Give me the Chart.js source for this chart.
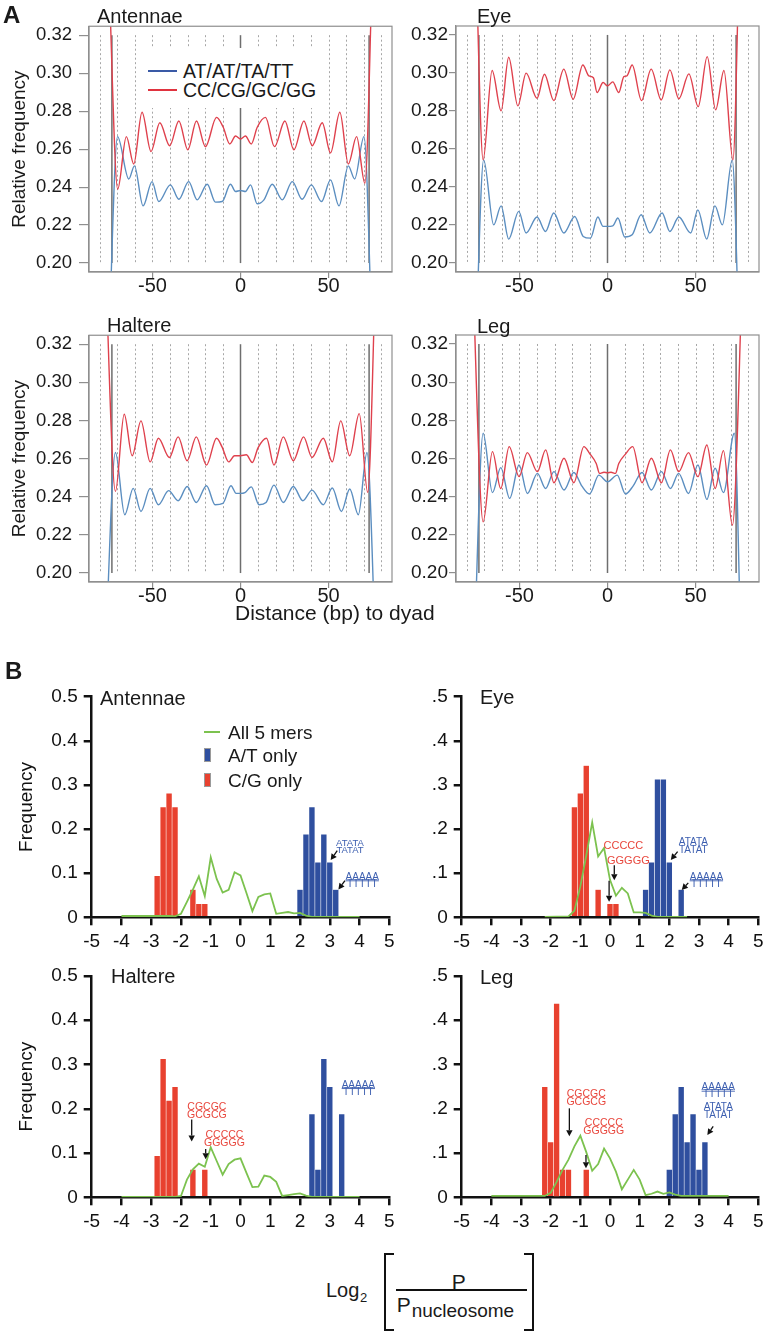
<!DOCTYPE html>
<html>
<head>
<meta charset="utf-8">
<script src="https://cdn.jsdelivr.net/npm/chart.js@4.4.1/dist/chart.umd.min.js"></script>
<style>
  body { margin: 0; background: #fff; }
  #page { position: relative; width: 766px; height: 1337px; overflow: hidden;
          font-family: "Liberation Sans", Arial, Helvetica, sans-serif; color: #1a1a1a; }
  canvas { position: absolute; }
  .t { position: absolute; line-height: 1; white-space: nowrap; }
  .box { position: absolute; box-sizing: border-box; }
</style>
</head>
<body>
<div id="page">
  <canvas id="aAnt"></canvas>
  <canvas id="aEye"></canvas>
  <canvas id="aHal"></canvas>
  <canvas id="aLeg"></canvas>
  <canvas id="bAnt"></canvas>
  <canvas id="bEye"></canvas>
  <canvas id="bHal"></canvas>
  <canvas id="bLeg"></canvas>

  <!-- panel A labels -->
  <div class="t" style="left:3px;top:3px;font-size:24px;font-weight:bold">A</div>
  <div class="t" style="left:97px;top:6px;font-size:20px">Antennae</div>
  <div class="t" style="left:477px;top:6px;font-size:20px">Eye</div>
  <div class="t" style="left:107px;top:315px;font-size:20px">Haltere</div>
  <div class="t" style="left:477px;top:316px;font-size:20px">Leg</div>

  <div class="box" style="left:140px;top:48px;width:186px;height:60px;background:#fff"></div>
  <div class="box" style="left:148px;top:70px;width:29px;height:2px;background:#3a5aa6"></div>
  <div class="t" style="left:183px;top:61.5px;font-size:19.5px">AT/AT/TA/TT</div>
  <div class="box" style="left:148px;top:89px;width:29px;height:2px;background:#e0333f"></div>
  <div class="t" style="left:183px;top:80.5px;font-size:19.5px">CC/CG/GC/GG</div>

  <div class="t" style="left:235px;top:602px;font-size:21px">Distance (bp) to dyad</div>

  <!-- panel B labels -->
  <div class="t" style="left:5px;top:659px;font-size:24px;font-weight:bold">B</div>
  <div class="t" style="left:100px;top:688px;font-size:20px">Antennae</div>
  <div class="t" style="left:480px;top:687px;font-size:20px">Eye</div>
  <div class="t" style="left:111px;top:966px;font-size:20px">Haltere</div>
  <div class="t" style="left:480px;top:967px;font-size:20px">Leg</div>

  <div class="box" style="left:204px;top:731px;width:16px;height:2px;background:#7cc24f"></div>
  <div class="t" style="left:228px;top:722.7px;font-size:19px">All 5 mers</div>
  <div class="box" style="left:204px;top:748px;width:7px;height:14px;background:#2f4f9f;border:1px solid #9a9a9a"></div>
  <div class="t" style="left:228px;top:745.7px;font-size:19px">A/T only</div>
  <div class="box" style="left:204px;top:773px;width:7px;height:14px;background:#e8412f;border:1px solid #9a9a9a"></div>
  <div class="t" style="left:228px;top:770.7px;font-size:19px">C/G only</div>

  <!-- x label of panel B -->
  <div class="t" style="left:326px;top:1280px;font-size:20px">Log</div>
  <div class="t" style="left:360px;top:1290.7px;font-size:13px">2</div>
  <div class="box" style="left:384px;top:1253px;width:10px;height:78px;border:2.5px solid #111;border-right:none"></div>
  <div class="box" style="left:524px;top:1253px;width:10px;height:78px;border:2.5px solid #111;border-left:none"></div>
  <div class="t" style="left:451.7px;top:1270.5px;font-size:21px">P</div>
  <div class="box" style="left:396px;top:1289.3px;width:131px;height:1.6px;background:#111"></div>
  <div class="t" style="left:396.7px;top:1293.9px;font-size:21px">P</div>
  <div class="t" style="left:411.7px;top:1301.2px;font-size:19px">nucleosome</div>
</div>

<script>
// Panel A: relative dinucleotide frequency vs distance to dyad -----
// [distance (bp), relative frequency]
const antennaeAT = [[-75,0.15],[-69.8,0.2666],[-63.4,0.2443],[-60.2,0.2512],[-55.3,0.2301],[-50.2,0.2429],[-46.4,0.2324],
  [-39.8,0.2412],[-35.0,0.2336],[-29.4,0.2429],[-24.6,0.2333],[-18.9,0.2415],[-14.2,0.2321],[-10.4,0.2324],[-5.7,0.2415],
  [-2.8,0.2377],[0,0.2382],[2.8,0.2377],[5.7,0.2412],[9.5,0.2312],[13.3,0.2333],[18.0,0.2415],[23.7,0.2333],[29.4,0.2429],
  [35.0,0.2336],[40.2,0.2412],[46.0,0.2324],[51.1,0.2438],[55.9,0.2301],[61.2,0.2512],[64.8,0.2443],[70.1,0.2666],[75,0.15]];
const antennaeCG = [[-75,0.36],[-69.7,0.2389],[-64.8,0.2666],[-60.6,0.2522],[-55.9,0.2794],[-50.8,0.2587],[-45.8,0.2739],
  [-40.2,0.2618],[-35.0,0.2748],[-29.9,0.2596],[-25.0,0.2748],[-19.9,0.2613],[-13.6,0.2767],[-9.8,0.2715],[-6.1,0.2627],
  [-2.8,0.2669],[0,0.2653],[2.8,0.2669],[6.1,0.2627],[9.5,0.2715],[14.2,0.2767],[19.3,0.2613],[25.2,0.2748],[30.3,0.2596],
  [36.0,0.2748],[40.7,0.2618],[46.4,0.2739],[51.1,0.258],[56.4,0.2794],[61.2,0.2522],[65.9,0.2666],[70.6,0.242],[75,0.36]];

const eyeAT = [[-75,0.15],[-70.3,0.2543],[-64.6,0.2201],[-60.4,0.2301],[-56.1,0.2126],[-50.4,0.2272],[-46.2,0.2158],
  [-40,0.2242],[-35.2,0.2166],[-30.5,0.2263],[-24.8,0.2158],[-18.6,0.2245],[-13.8,0.214],[-9.7,0.2131],[-5.5,0.2242],
  [-2.5,0.2193],[0,0.2193],[3,0.2196],[5.9,0.2237],[9.8,0.2137],[14,0.2149],[19.1,0.2254],[24,0.2158],[31,0.2263],
  [35.4,0.2166],[40.5,0.2242],[47.2,0.2158],[51.3,0.228],[56.3,0.2126],[61,0.2301],[65.2,0.2201],[70.8,0.2543],[75,0.15]];
const eyeCG = [[-75,0.37],[-70.6,0.2543],[-65.5,0.3013],[-60.4,0.2801],[-56.1,0.3083],[-50.9,0.2827],[-46.2,0.2999],
  [-40,0.2867],[-35.8,0.2993],[-30.5,0.2855],[-24.8,0.302],[-19.5,0.2862],[-14,0.3042],[-10.6,0.2985],[-8,0.2975],
  [-5.9,0.2897],[-2.5,0.295],[0,0.2932],[3,0.2953],[6.4,0.2897],[9.3,0.2981],[11,0.2985],[14,0.3042],[19.3,0.2855],
  [24.8,0.302],[30.5,0.2858],[35.4,0.3016],[40.5,0.2864],[46.2,0.2995],[51.5,0.2823],[56.6,0.3086],[61.4,0.2806],
  [66.1,0.3013],[71.2,0.2543],[75,0.37]];

const haltereAT = [[-77,0.15],[-71,0.2632],[-65.7,0.2306],[-60.9,0.2444],[-56.5,0.2323],[-51.3,0.2444],[-46.6,0.2358],
  [-40.8,0.2432],[-35.4,0.2379],[-30.3,0.2454],[-25.1,0.237],[-19.3,0.2458],[-14.4,0.2358],[-10,0.2365],[-5.4,0.2458],
  [-2.5,0.2418],[0,0.2418],[2.5,0.2422],[6.1,0.2452],[10.5,0.2358],[14.5,0.237],[19,0.2461],[24.3,0.237],[30,0.2454],
  [35.4,0.2379],[40.6,0.2435],[47,0.2358],[52.1,0.2446],[57.3,0.2323],[62,0.2441],[66.9,0.2306],[71.8,0.2632],[77,0.15]];
const haltereCG = [[-77,0.37],[-71,0.2428],[-66,0.2833],[-61.5,0.2615],[-56.5,0.2798],[-51.3,0.2583],[-46.6,0.2707],
  [-40.4,0.2606],[-35.4,0.2714],[-30.3,0.2589],[-25.1,0.2714],[-19.3,0.2566],[-13.6,0.2707],[-10.5,0.2662],[-6.7,0.2583],
  [-3.4,0.2615],[0,0.2615],[3.3,0.262],[6.7,0.258],[10,0.2658],[14.8,0.2707],[19,0.2566],[24.3,0.2714],[30,0.2589],
  [35.8,0.2714],[40.6,0.2606],[47,0.2707],[52.1,0.2583],[56.9,0.2798],[62,0.2615],[67.4,0.2836],[72.2,0.2423],[77,0.37]];

const legAT = [[-76,0.15],[-70.6,0.2732],[-65.3,0.2421],[-60.6,0.2552],[-55.5,0.2391],[-50.2,0.2566],[-45.5,0.2417],
  [-39.8,0.2522],[-35.1,0.2443],[-30.4,0.2531],[-24.7,0.2435],[-19.1,0.2527],[-14.5,0.2455],[-10.2,0.2414],[-4.9,0.2513],
  [0,0.2478],[5.5,0.2513],[10.2,0.2414],[14.5,0.2455],[19.6,0.2527],[24.9,0.2435],[30.6,0.2531],[35.7,0.2443],[40.4,0.2522],
  [46,0.2417],[51.3,0.2566],[56.4,0.2386],[61.1,0.2549],[65.8,0.2421],[72,0.2732],[76,0.15]];
const legCG = [[-77,0.37],[-70.6,0.2268],[-65.3,0.2636],[-60.6,0.2443],[-55.8,0.2662],[-50.2,0.2505],[-45.5,0.2631],
  [-39.8,0.2531],[-35.1,0.2645],[-30.4,0.2473],[-24.7,0.2601],[-19.1,0.2473],[-13.4,0.2662],[-10.2,0.2627],[-6.4,0.2574],
  [-4.5,0.2522],[-2,0.2528],[0,0.2525],[2,0.2528],[4.5,0.2522],[6.4,0.2574],[10.2,0.2623],[14.3,0.2662],[19.6,0.2473],
  [24.9,0.2601],[30.6,0.2473],[35.7,0.2645],[40.4,0.2531],[46,0.2631],[51.3,0.2505],[56.4,0.2671],[61.1,0.2443],
  [65.8,0.2641],[70.9,0.225],[77,0.37]];

const aYTicks = [0.20, 0.22, 0.24, 0.26, 0.28, 0.30, 0.32];
const aXTicks = [-50, 0, 50];
const guideDotX = [-80, -70, -60, -50, -40, -30, -20, -10, 10, 20, 30, 40, 50, 60, 70, 80];
const guideSolidX = [-73, 0, 73];

// Panel B: frequency vs log2(P / P nucleosome) -----
const antCGbin = [-2.8, -2.6, -2.4, -2.2, -1.6, -1.4, -1.2];
const antCGfreq = [0.094, 0.25, 0.281, 0.25, 0.063, 0.031, 0.031];
const antATbin = [2.0, 2.2, 2.4, 2.6, 2.8, 3.0, 3.2];
const antATfreq = [0.063, 0.188, 0.25, 0.125, 0.188, 0.125, 0.063];
const antAllX = [-4, -2.4, -2.2, -2.0, -1.8, -1.6, -1.4, -1.2, -1.0, -0.8, -0.6, -0.4, -0.2, 0, 0.2, 0.4, 0.6, 0.8, 1.0, 1.2, 1.4, 1.6, 1.8, 2.0, 2.2, 2.4, 4];
const antAllY = [0.003, 0.003, 0.002, 0.008, 0.035, 0.063, 0.093, 0.048, 0.136, 0.087, 0.056, 0.062, 0.102, 0.095, 0.055, 0.014, 0.046, 0.052, 0.054, 0.008, 0.01, 0.012, 0.009, 0.01, 0.004, 0.001, 0.001];

const eyeCGbin = [-1.2, -1.0, -0.8, -0.4, 0.0, 0.2];
const eyeCGfreq = [0.25, 0.281, 0.344, 0.063, 0.031, 0.031];
const eyeATbin = [1.2, 1.4, 1.6, 1.8, 2.0, 2.4];
const eyeATfreq = [0.063, 0.125, 0.313, 0.313, 0.125, 0.063];
const eyeAllX = [-2.2, -1.4, -1.2, -1.0, -0.8, -0.6, -0.4, -0.2, 0, 0.2, 0.4, 0.6, 0.8, 1.0, 1.2, 1.4, 1.6, 2.6];
const eyeAllY = [0.001, 0.002, 0.015, 0.07, 0.14, 0.215, 0.138, 0.157, 0.085, 0.049, 0.067, 0.054, 0.011, 0.011, 0.01, 0.004, 0.001, 0.001];

const halCGbin = [-2.8, -2.6, -2.4, -2.2, -1.6, -1.2];
const halCGfreq = [0.094, 0.313, 0.219, 0.25, 0.063, 0.063];
const halATbin = [2.4, 2.6, 2.8, 3.0, 3.4];
const halATfreq = [0.188, 0.063, 0.313, 0.25, 0.188];
const halAllX = [-4, -2.2, -2.0, -1.8, -1.6, -1.4, -1.2, -1.0, -0.8, -0.6, -0.4, -0.2, 0, 0.2, 0.4, 0.6, 0.8, 1.0, 1.2, 1.4, 1.6, 1.8, 2.0, 2.2, 2.4, 4];
const halAllY = [0.001, 0.001, 0.003, 0.04, 0.063, 0.076, 0.069, 0.113, 0.082, 0.051, 0.075, 0.085, 0.088, 0.055, 0.023, 0.024, 0.049, 0.046, 0.035, 0.003, 0.005, 0.007, 0.009, 0.004, 0.001, 0.001];

const legCGbin = [-2.2, -2.0, -1.8, -1.6, -1.4, -0.8];
const legCGfreq = [0.25, 0.125, 0.438, 0.063, 0.063, 0.063];
const legATbin = [2.0, 2.2, 2.4, 2.6, 2.8, 3.0, 3.2];
const legATfreq = [0.063, 0.188, 0.25, 0.125, 0.188, 0.063, 0.125];
const legAllX = [-4, -2.2, -2.0, -1.8, -1.6, -1.4, -1.2, -1.0, -0.8, -0.6, -0.4, -0.2, 0, 0.2, 0.4, 0.6, 0.8, 1.0, 1.2, 1.4, 1.6, 1.8, 2.0, 2.2, 2.4, 4];
const legAllY = [0.003, 0.003, 0.01, 0.035, 0.062, 0.085, 0.115, 0.139, 0.102, 0.06, 0.075, 0.11, 0.088, 0.058, 0.018, 0.04, 0.062, 0.04, 0.005, 0.008, 0.013, 0.008, 0.011, 0.006, 0.003, 0.003];

const binWidth = 0.2;
const bXTicks = [-5, -4, -3, -2, -1, 0, 1, 2, 3, 4, 5];
const bYTicks = [0, 0.1, 0.2, 0.3, 0.4, 0.5];
const bYLabelsLeft = ['0', '0.1', '0.2', '0.3', '0.4', '0.5'];
const bYLabelsRight = ['0', '.1', '.2', '.3', '.4', '.5'];

// sequence call-outs (anchor in data units, line offsets in px)
const RED_TXT = '#e8463c', BLUE_TXT = '#3d5fb0';
const antNotes = [
  {x: 3.68, y: 0.162, text: ['ATATA', 'TATAT'], dy: [0, 7.5], color: BLUE_TXT, size: 9.5, arrow: [3.25, 0.151, 3.03, 0.13]},
  {x: 4.09, y: 0.085, text: ['AAAAA', 'TTTTT'], dy: [0, 7.5], color: BLUE_TXT, size: 10, rule: true, arrow: [3.51, 0.083, 3.29, 0.063]}
];
const eyeNotes = [
  {x: 0.45, y: 0.155, text: ['CCCCC'], dy: [0], color: RED_TXT, size: 11},
  {x: 0.62, y: 0.12, text: ['GGGGG'], dy: [0], color: RED_TXT, size: 11, arrow: [0.145, 0.118, 0.145, 0.084]},
  {x: 0, y: 0, text: [], dy: [], arrow: [-0.03, 0.083, -0.03, 0.035]},
  {x: 2.81, y: 0.164, text: ['ATATA', 'TATAT'], dy: [0, 7.7], color: BLUE_TXT, size: 10, arrow: [2.28, 0.149, 2.05, 0.13]},
  {x: 3.25, y: 0.085, text: ['AAAAA', 'TTTTT'], dy: [0, 7.3], color: BLUE_TXT, size: 10, rule: true, arrow: [2.64, 0.078, 2.42, 0.062]}
];
const halNotes = [
  {x: -1.13, y: 0.197, text: ['CGCGC', 'GCGCG'], dy: [0, 8], color: RED_TXT, size: 10.5, arrow: [-1.64, 0.176, -1.64, 0.126]},
  {x: -0.54, y: 0.135, text: ['CCCCC', 'GGGGG'], dy: [0, 8], color: RED_TXT, size: 10.5, arrow: [-1.17, 0.109, -1.17, 0.086]},
  {x: 3.96, y: 0.248, text: ['AAAAA', 'TTTTT'], dy: [0, 7.3], color: BLUE_TXT, size: 10, rule: true}
];
const legNotes = [
  {x: -0.8, y: 0.227, text: ['CGCGC', 'GCGCG'], dy: [0, 8.3], color: RED_TXT, size: 10.5, arrow: [-1.37, 0.201, -1.37, 0.138]},
  {x: -0.21, y: 0.162, text: ['CCCCC', 'GGGGG'], dy: [0, 8.3], color: RED_TXT, size: 10.5, arrow: [-0.81, 0.0956, -0.81, 0.0655]},
  {x: 3.65, y: 0.242, text: ['AAAAA', 'TTTTT', 'ATATA', 'TATAT'], dy: [0, 7.3, 20, 28.3], color: BLUE_TXT, size: 10, rule: true, arrow: [3.48, 0.16, 3.28, 0.141]}
];

// Styles -----
const FONT = "'Liberation Sans', Arial, Helvetica, sans-serif";
Chart.defaults.font.family = FONT;
Chart.defaults.color = '#1a1a1a';
const AT_LINE = '#5b8ec0', CG_LINE = '#df414d';
const FRAME = '#8f8f8f';
const AT_BAR = '#2f4f9f', CG_BAR = '#e8412f', ALL_LINE = '#7cc24f';
const AXIS = '#111';

// put a canvas on the page so that the chart area lands on "area"
function placeBox(id, area, pad) {
  const c = document.getElementById(id);
  const x = Math.floor(area.l - pad.l), y = Math.floor(area.t - pad.t);
  const w = Math.ceil(area.r + pad.r) - x, h = Math.ceil(area.b + pad.b) - y;
  c.width = w; c.height = h;
  c.style.left = x + 'px'; c.style.top = y + 'px';
  c.style.width = w + 'px'; c.style.height = h + 'px';
  return {canvas: c, yW: area.l - x, xH: y + h - area.b, padTop: area.t - y, padRight: x + w - area.r};
}

const pairs = (xs, ys) => xs.map((x, i) => ({x: x, y: ys[i]}));

// Panel A -----
const guidePlugin = {
  id: 'guides',
  beforeDatasetsDraw(chart) {
    const {ctx, scales: {x, y}} = chart;
    const y0 = y.getPixelForValue(0.20), y1 = y.getPixelForValue(0.32);
    ctx.save();
    ctx.strokeStyle = '#a6a6a6';
    ctx.lineWidth = 1;
    ctx.setLineDash([2, 2.5]);
    guideDotX.forEach(v => {
      const px = Math.round(x.getPixelForValue(v)) + 0.5;
      ctx.beginPath(); ctx.moveTo(px, y1); ctx.lineTo(px, y0); ctx.stroke();
    });
    ctx.setLineDash([]);
    ctx.strokeStyle = '#6e6e6e';
    ctx.lineWidth = 1.5;
    guideSolidX.forEach(v => {
      const px = x.getPixelForValue(v);
      ctx.beginPath(); ctx.moveTo(px, y1); ctx.lineTo(px, y0); ctx.stroke();
    });
    ctx.restore();
  },
  afterDraw(chart) {
    const {ctx, chartArea: a} = chart;
    ctx.save();
    ctx.strokeStyle = FRAME;
    ctx.lineWidth = 1.2;
    ctx.strokeRect(a.left, a.top, a.right - a.left, a.bottom - a.top);
    ctx.restore();
  }
};

function lineSet(points, color) {
  return {
    data: points.map(p => ({x: p[0], y: p[1]})),
    borderColor: color, borderWidth: 1.4, pointRadius: 0,
    cubicInterpolationMode: 'monotone', fill: false
  };
}

// yt: y tick geometry of that panel (the right-hand plots sit their labels closer in)
function panelA(id, area, at, cg, withTitle, yt) {
  const p = placeBox(id, area, {l: 89, t: 16, r: 12, b: 30});
  return new Chart(p.canvas, {
    type: 'line',
    data: {datasets: [lineSet(cg, CG_LINE), lineSet(at, AT_LINE)]},
    options: {
      responsive: false, animation: false, devicePixelRatio: 1,
      layout: {padding: {left: 0, top: p.padTop, right: p.padRight, bottom: 0}},
      plugins: {legend: {display: false}, tooltip: {enabled: false}},
      scales: {
        x: {
          type: 'linear', min: -86, max: 86,
          afterBuildTicks: s => { s.ticks = aXTicks.map(v => ({value: v})); },
          afterFit: s => { s.height = p.xH; },
          ticks: {font: {size: 20, lineHeight: 1}, color: '#1a1a1a', padding: -2, autoSkip: false, maxRotation: 0},
          grid: {drawOnChartArea: false, tickLength: 6, color: FRAME, lineWidth: 1.2},
          border: {color: FRAME, width: 1.2}
        },
        y: {
          type: 'linear', min: 0.1953, max: 0.3247,
          afterBuildTicks: s => { s.ticks = aYTicks.map(v => ({value: v})); },
          afterFit: s => { s.width = p.yW; },
          ticks: {font: {size: yt.size, lineHeight: 1}, color: '#1a1a1a', padding: yt.pad, autoSkip: false,
                  callback: v => v.toFixed(2)},
          grid: {drawOnChartArea: false, tickLength: yt.len, color: FRAME, lineWidth: 1.2},
          border: {color: FRAME, width: 1.2},
          title: {display: withTitle, text: 'Relative frequency', font: {size: 19}, color: '#1a1a1a',
                  padding: {top: 8.6, bottom: 0}}
        }
      }
    },
    plugins: [guidePlugin]
  });
}

const leftTicks = {size: 18.5, pad: 7, len: 10};
const rightTicks = {size: 19, pad: 1, len: 7};
panelA('aAnt', {l: 89, t: 26, r: 392, b: 272}, antennaeAT, antennaeCG, true, leftTicks);
panelA('aEye', {l: 456, t: 26, r: 759, b: 272}, eyeAT, eyeCG, false, rightTicks);
panelA('aHal', {l: 89, t: 335, r: 392, b: 582}, haltereAT, haltereCG, true, leftTicks);
panelA('aLeg', {l: 456, t: 335, r: 759, b: 582}, legAT, legCG, false, rightTicks);

// Panel B -----
const notePlugin = {
  id: 'notes',
  afterDatasetsDraw(chart, args, opts) {
    const {ctx, scales: {x, y}} = chart;
    ctx.save();
    (opts.items || []).forEach(n => {
      const px = x.getPixelForValue(n.x), py = y.getPixelForValue(n.y);
      ctx.fillStyle = n.color;
      ctx.strokeStyle = n.color;
      ctx.font = n.size + 'px ' + FONT;
      ctx.textAlign = 'center';
      ctx.textBaseline = 'alphabetic';
      n.text.forEach((s, i) => {
        ctx.fillText(s, px, py + n.dy[i]);
        if (n.rule && i === 0) {
          const w = ctx.measureText(s).width;
          ctx.lineWidth = 0.9;
          ctx.beginPath(); ctx.moveTo(px - w / 2, py + 1); ctx.lineTo(px + w / 2, py + 1); ctx.stroke();
        }
      });
      if (n.arrow) {
        const x1 = x.getPixelForValue(n.arrow[0]), y1 = y.getPixelForValue(n.arrow[1]);
        const x2 = x.getPixelForValue(n.arrow[2]), y2 = y.getPixelForValue(n.arrow[3]);
        const ang = Math.atan2(y2 - y1, x2 - x1), hl = 6, hw = 3.2;
        const bx = x2 - hl * Math.cos(ang), by = y2 - hl * Math.sin(ang);
        ctx.strokeStyle = '#111'; ctx.fillStyle = '#111'; ctx.lineWidth = 1.3;
        ctx.beginPath(); ctx.moveTo(x1, y1); ctx.lineTo(bx, by); ctx.stroke();
        ctx.beginPath();
        ctx.moveTo(x2, y2);
        ctx.lineTo(bx + hw * Math.sin(ang), by - hw * Math.cos(ang));
        ctx.lineTo(bx - hw * Math.sin(ang), by + hw * Math.cos(ang));
        ctx.closePath(); ctx.fill();
      }
    });
    ctx.restore();
  }
};

function barSet(xs, ys, color, thick) {
  return {
    type: 'bar', data: pairs(xs, ys), backgroundColor: color,
    borderColor: 'rgba(255,255,255,0.3)', borderWidth: 0.6,
    barThickness: thick, grouped: false, order: 1
  };
}

function panelB(id, area, d, yLabels, withTitle, notes) {
  const p = placeBox(id, area, {l: 91, t: 20, r: 15, b: 40});
  const thick = binWidth * (area.r - area.l) / 10;   // one bin in pixels
  return new Chart(p.canvas, {
    type: 'bar',
    data: {datasets: [
      {type: 'line', data: pairs(d.allX, d.allY), borderColor: ALL_LINE, borderWidth: 1.8,
       pointRadius: 0, tension: 0, order: 0},
      barSet(d.atX, d.atY, AT_BAR, thick),
      barSet(d.cgX, d.cgY, CG_BAR, thick)
    ]},
    options: {
      responsive: false, animation: false, devicePixelRatio: 1,
      layout: {padding: {left: 0, top: p.padTop, right: p.padRight, bottom: 0}},
      plugins: {legend: {display: false}, tooltip: {enabled: false}, notes: {items: notes}},
      scales: {
        x: {
          type: 'linear', min: -5, max: 5, offset: false,
          afterBuildTicks: s => { s.ticks = bXTicks.map(v => ({value: v})); },
          afterFit: s => { s.height = p.xH; },
          ticks: {font: {size: 19, lineHeight: 1}, color: '#111', padding: 7, autoSkip: false, maxRotation: 0},
          grid: {offset: false, drawOnChartArea: false, tickLength: 8, color: AXIS, lineWidth: 2.5},
          border: {color: AXIS, width: 2.5}
        },
        y: {
          type: 'linear', min: 0, max: 0.5,
          afterBuildTicks: s => { s.ticks = bYTicks.map(v => ({value: v})); },
          afterFit: s => { s.width = p.yW; },
          ticks: {font: {size: 19, lineHeight: 1}, color: '#111', padding: 6, autoSkip: false,
                  callback: (v, i) => yLabels[i]},
          grid: {drawOnChartArea: false, tickLength: 8, color: AXIS, lineWidth: 2.5},
          border: {color: AXIS, width: 2.5},
          title: {display: withTitle, text: 'Frequency', font: {size: 19}, color: '#111',
                  padding: {top: 15.6, bottom: 0}}
        }
      }
    },
    plugins: [notePlugin]
  });
}

panelB('bAnt', {l: 91.7, t: 696.7, r: 389.3, b: 917.3},
  {cgX: antCGbin, cgY: antCGfreq, atX: antATbin, atY: antATfreq, allX: antAllX, allY: antAllY},
  bYLabelsLeft, true, antNotes);
panelB('bEye', {l: 461.7, t: 696.7, r: 758.3, b: 917.3},
  {cgX: eyeCGbin, cgY: eyeCGfreq, atX: eyeATbin, atY: eyeATfreq, allX: eyeAllX, allY: eyeAllY},
  bYLabelsRight, false, eyeNotes);
panelB('bHal', {l: 91.7, t: 976, r: 389.3, b: 1197.3},
  {cgX: halCGbin, cgY: halCGfreq, atX: halATbin, atY: halATfreq, allX: halAllX, allY: halAllY},
  bYLabelsLeft, true, halNotes);
panelB('bLeg', {l: 461.7, t: 976, r: 758.3, b: 1197.3},
  {cgX: legCGbin, cgY: legCGfreq, atX: legATbin, atY: legATfreq, allX: legAllX, allY: legAllY},
  bYLabelsRight, false, legNotes);
</script>
</body>
</html>
